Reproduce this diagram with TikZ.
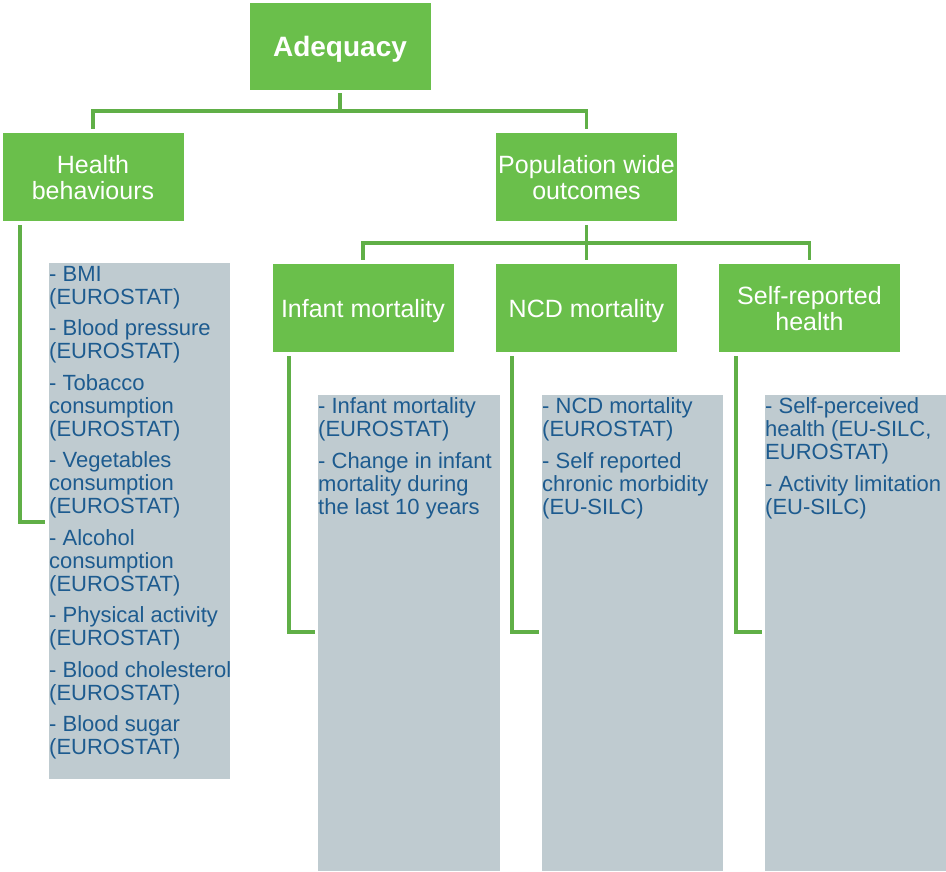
\documentclass[tikz,border=0pt]{standalone}
\usepackage{fontspec}
\setmainfont{Liberation Sans}
\usepackage{tikz}

\definecolor{boxgreen}{HTML}{6ABF4B}
\definecolor{linkgreen}{HTML}{60AF47}
\definecolor{listgray}{HTML}{BFCBD0}
\definecolor{listblue}{HTML}{1D5B8F}

\tikzset{
  greenbox/.style={fill=boxgreen, text=white, minimum width=181pt, minimum height=88pt,
    inner sep=1pt, align=center, text depth=0pt, font=\fontsize{25}{26}\selectfont},
  listbox/.style={fill=listgray, anchor=north west, minimum width=181pt, inner sep=0pt},
  listtext/.style={anchor=north west, inner sep=0pt, align=left, text=listblue,
    font=\fontsize{22}{23}\selectfont},
  link/.style={draw=linkgreen, line width=3.5pt},
}

\begin{document}
\begin{tikzpicture}[x=1pt,y=-1pt]
        \useasboundingbox (0,0) rectangle (946,872);
        % 顶层
        \node[greenbox, font=\bfseries\fontsize{28}{30}\selectfont, minimum height=87pt] (adeq) at (340,46.5) {Adequacy};
        % 第二层
        \node[greenbox] (health) at (93,177) {Health\\behaviours};
        \node[greenbox] (popu) at (586.5,177) {Population wide\\outcomes};
        % 第三层
        \node[greenbox] (infant) at (363,308) {Infant mortality};
        \node[greenbox] (ncd) at (586.5,308) {NCD mortality};
        \node[greenbox] (selfrep) at (809.5,308) {Self-reported\\health};
        % 指标列表
        \node[listbox, minimum height=516pt] (hblist) at (49,263) {};
        \node[listbox, minimum width=182pt, minimum height=476pt] (inflist) at (318,395) {};
        \node[listbox, minimum height=476pt] (ncdlist) at (542,395) {};
        \node[listbox, minimum height=476pt] (srlist) at (765,395) {};
        \node[listtext, yshift=-3pt] (hbtext) at (hblist.north west) {- BMI\\(EUROSTAT)\\[8.5pt]- Blood pressure\\(EUROSTAT)\\[8.5pt]- Tobacco\\consumption\\(EUROSTAT)\\[8.5pt]- Vegetables\\consumption\\(EUROSTAT)\\[8.5pt]- Alcohol\\consumption\\(EUROSTAT)\\[8.5pt]- Physical activity\\(EUROSTAT)\\[8.5pt]- Blood cholesterol\\(EUROSTAT)\\[8.5pt]- Blood sugar\\(EUROSTAT)};
        \node[listtext, yshift=-2.5pt] (inftext) at (inflist.north west) {- Infant mortality\\(EUROSTAT)\\[8.5pt]- Change in infant\\mortality during\\the last 10 years};
        \node[listtext, yshift=-2.5pt] (ncdtext) at (ncdlist.north west) {- NCD mortality\\(EUROSTAT)\\[8.5pt]- Self reported\\chronic morbidity\\(EU-SILC)};
        \node[listtext, yshift=-2.5pt] (srtext) at (srlist.north west) {- Self-perceived\\health (EU-SILC,\\EUROSTAT)\\[8.5pt]- Activity limitation\\(EU-SILC)};
        % 连线
        \coordinate (bus1) at (340,111);
        \coordinate (bus2) at (586.5,243);
        \draw[link] ([yshift=-3pt]adeq.south) -- (bus1);
        \draw[link] ([yshift=4pt]health.north) |- (bus1) -| ([yshift=4pt]popu.north);
        \draw[link] ([yshift=-4pt]popu.south) -- ([yshift=4pt]ncd.north);
        \draw[link] ([yshift=4pt]infant.north) |- (bus2) -| ([yshift=4pt]selfrep.north);
        % 列表连线
        \coordinate (hbend) at (45,522);
        \coordinate (infend) at (315,632);
        \coordinate (ncdend) at (539,632);
        \coordinate (srend) at (762,632);
        \draw[link] ([xshift=-73pt,yshift=-4pt]health.south) |- (hbend);
        \draw[link] ([xshift=-74pt,yshift=-4pt]infant.south) |- (infend);
        \draw[link] ([xshift=-74.5pt,yshift=-4pt]ncd.south) |- (ncdend);
        \draw[link] ([xshift=-73.5pt,yshift=-4pt]selfrep.south) |- (srend);
\end{tikzpicture}
\end{document}
